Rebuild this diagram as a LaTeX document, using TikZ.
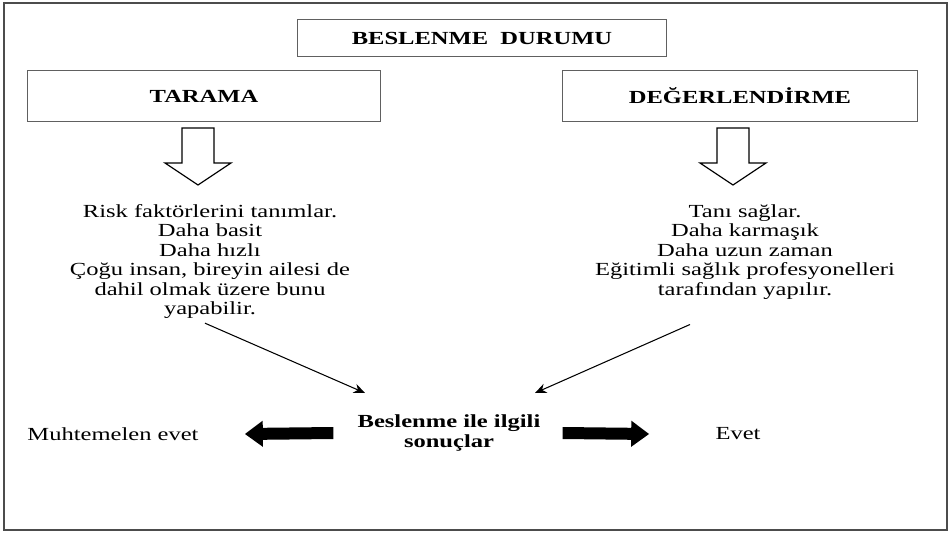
\documentclass[tikz,border=0pt]{standalone}
\usepackage{fontspec}
\setmainfont[FakeStretch=1.33]{Liberation Serif}
\usetikzlibrary{arrows.meta, positioning, calc}

\begin{document}
\begin{tikzpicture}[x=0.02cm, y=-0.02cm,
    font=\fontsize{10.5}{11.1}\selectfont,
    box/.style={draw=gray!75!black, line width=0.6pt, minimum height=1.02cm, font=\fontsize{10.5}{11.1}\selectfont\bfseries},
    txt/.style={align=center, inner sep=0pt},
    thin arrow/.style={-{Stealth[length=6.5pt, width=5.5pt]}, line width=0.6pt},
    fat arrow/.style={-{Triangle[length=0.36cm, width=0.5cm]}, line width=0.24cm},
    hollow down/.pic={\draw[line width=0.7pt] (-16,0) -- (16,0) -- (16,35) -- (33,35) -- (0,57) -- (-33,35) -- (-16,35) -- cycle;}]
    \useasboundingbox (0,0) rectangle (951,534);
    \draw[gray!60!black, line width=1.1pt] (4,3) rectangle (947,530);

    % kutular
    \node[box, minimum width=7.4cm, minimum height=0.74cm] (durum) at (482,38) {BESLENME\ \ DURUMU};
    \node[box, minimum width=7.08cm] (tarama) at (204,96) {TARAMA};
    \node[box, minimum width=7.12cm] (deger) at (740,96) {DEĞERLENDİRME};

    \pic at (198,128) {hollow down};
    \pic at (733,128) {hollow down};

    % aciklamalar
    \node[txt, anchor=north] (tarama txt) at (210,204) {Risk faktörlerini tanımlar.\\Daha basit\\Daha hızlı\\Çoğu insan, bireyin ailesi de\\dahil olmak üzere bunu\\yapabilir.};
    \node[txt, anchor=north] (deger txt) at (745,204) {Tanı sağlar.\\Daha karmaşık\\Daha uzun zaman\\Eğitimli sağlık profesyonelleri\\tarafından yapılır.};

    \node[txt, font=\fontsize{10.5}{11.1}\selectfont\bfseries] (sonuc) at (449,433) {Beslenme ile ilgili\\sonuçlar};
    \node[txt] (muhtemelen) at (113,434) {Muhtemelen evet};
    \node[txt] (evet) at (738,434) {Evet};

    \coordinate (tip l) at (365,393);
    \coordinate (tip r) at (535,393);
    \draw[thin arrow] ($(tarama txt.south)+(-5,4)$) -- (tip l);
    \draw[thin arrow] ($(deger txt.south)+(-55,25)$) -- (tip r);

    \draw[fat arrow] ($(sonuc.west)+(-24,0)$) -- ($(muhtemelen.east)+(46,0)$);
    \draw[fat arrow] ($(sonuc.east)+(22,0)$) -- ($(evet.west)+(-66,0)$);
\end{tikzpicture}
\end{document}
